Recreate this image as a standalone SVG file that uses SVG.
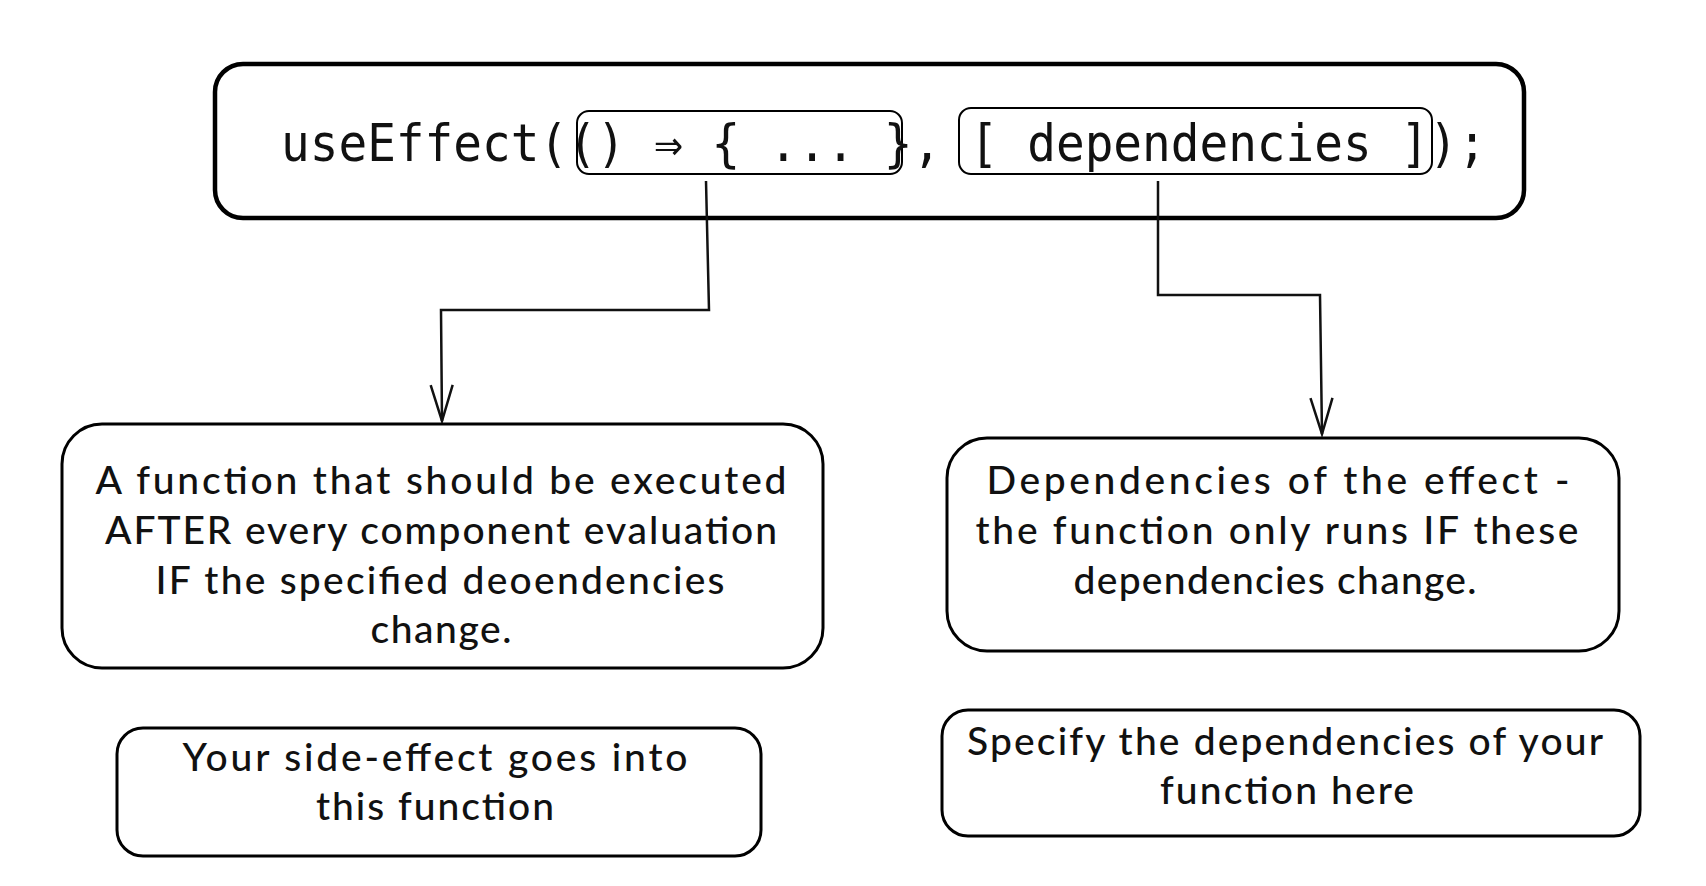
<svg xmlns="http://www.w3.org/2000/svg" width="1706" height="886" viewBox="0 0 1706 886">
<defs>
<style>
.box{fill:none;stroke:#000;stroke-width:3;stroke-linejoin:round}
.thick{stroke-width:4.5}
.thin{stroke-width:2}
.code{font-family:"DejaVu Sans Mono","Liberation Mono",monospace;font-size:52px;fill:#111}
.hand{font-family:Lato,"Liberation Sans",sans-serif;font-size:39px;font-weight:500;fill:#111;text-anchor:middle}
.conn{fill:none;stroke:#111;stroke-width:2.5;stroke-linejoin:miter}
</style>
<marker id="arr" viewBox="-40 -16 44 32" markerWidth="44" markerHeight="32" refX="0" refY="0" orient="auto" markerUnits="userSpaceOnUse">
<path d="M -36 -11 L 0 0 L -36 11" fill="none" stroke="#111" stroke-width="2.5"/>
</marker>
</defs>
<rect width="1706" height="886" fill="#fff"/>
<g id="code-node">
<rect class="box thick" x="215" y="64" width="1309" height="154" rx="28"/>
<rect class="box thin" x="577" y="111" width="325" height="63" rx="12"/>
<rect class="box thin" x="959" y="108" width="473" height="66" rx="12"/>
<text class="code" transform="scale(0.917 1)" x="306.5" y="161">useEffect(() ⇒ { ... }, [ dependencies ]);</text>
</g>
<g id="connectors">
<polyline class="conn" points="706,181 709,310 441,310 442,421" marker-end="url(#arr)"/>
<polyline class="conn" points="1158,181 1158,295 1320,295 1322,434" marker-end="url(#arr)"/>
</g>
<g id="function-desc">
<rect class="box" x="62" y="424" width="761" height="244" rx="40"/>
<text class="hand" x="441" y="494" textLength="691">A function that should be executed</text>
<text class="hand" x="441" y="544" textLength="672">AFTER every component evaluation</text>
<text class="hand" x="440" y="594" textLength="569">IF the specified deoendencies</text>
<text class="hand" x="441" y="643" textLength="141">change.</text>
</g>
<g id="deps-desc">
<rect class="box" x="947" y="438" width="672" height="213" rx="40"/>
<text class="hand" x="1278" y="494" textLength="583">Dependencies of the effect -</text>
<text class="hand" x="1277" y="544" textLength="603">the function only runs IF these</text>
<text class="hand" x="1275" y="594" textLength="403">dependencies change.</text>
</g>
<g id="side-effect-note">
<rect class="box" x="117" y="728" width="644" height="128" rx="26"/>
<text class="hand" x="435" y="771" textLength="505">Your side-effect goes into</text>
<text class="hand" x="435" y="820" textLength="238">this function</text>
</g>
<g id="deps-note">
<rect class="box" x="942" y="710" width="698" height="126" rx="26"/>
<text class="hand" x="1285" y="755" textLength="636">Specify the dependencies of your</text>
<text class="hand" x="1287" y="804" textLength="254">function here</text>
</g>
</svg>
